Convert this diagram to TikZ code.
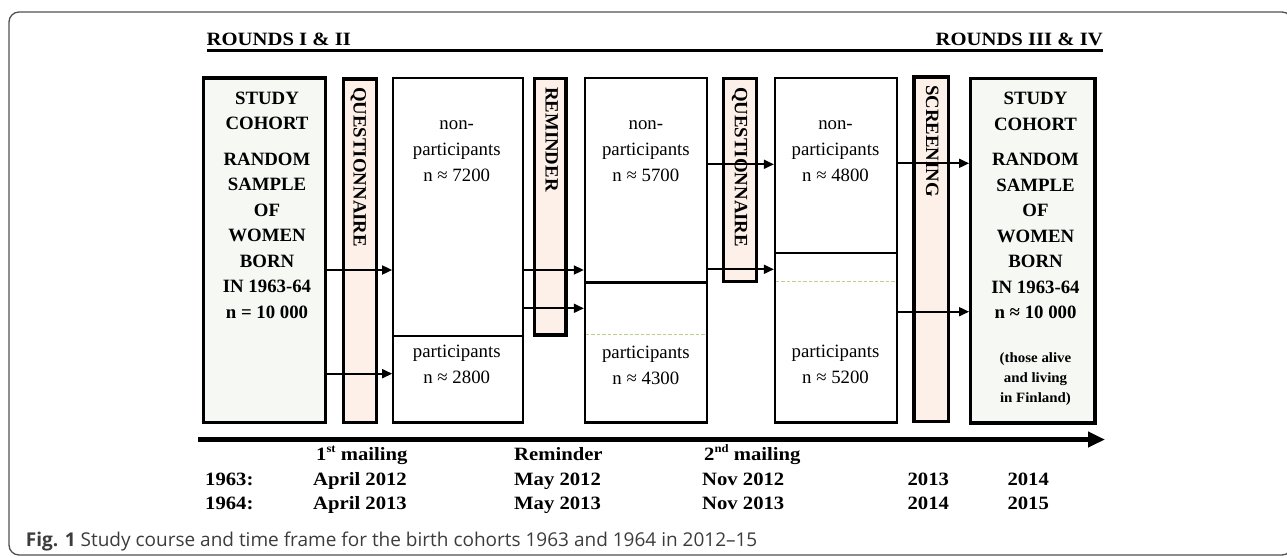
\documentclass[tikz,border=0pt]{standalone}
\usepackage{fontspec}
\setmainfont{Liberation Serif}
\newfontfamily\widefont[FakeStretch=1.1]{Liberation Serif}
\newfontfamily\notefont[FakeStretch=1.05]{Liberation Serif}
\newfontfamily\capfont{Open Sans}
\usetikzlibrary{arrows.meta}
\definecolor{cohortfill}{HTML}{F6F8F3}
\definecolor{barfill}{HTML}{FDF0E8}
\definecolor{dashgreen}{HTML}{B9D18A}
\definecolor{framegray}{HTML}{505050}
\definecolor{captext}{HTML}{3C3C3C}
\tikzset{
  cohortbox/.style={draw, line width=3.3pt, fill=cohortfill, inner sep=0pt},
  barbox/.style={draw, line width=3.3pt, fill=barfill, inner sep=0pt},
  grpbox/.style={draw, line width=2.3pt, fill=white, inner sep=0pt},
  divline/.style={line width=2.3pt},
  greendash/.style={draw=dashgreen, line width=1.3pt, dash pattern=on 3.5pt off 2pt},
  flow/.style={line width=1.7pt, -{Triangle[length=10pt,width=9pt]}},
  timeline/.style={line width=5.5pt, -{Triangle[length=17pt,width=15pt]}},
  cohorttext/.style={align=center, inner sep=0pt, anchor=north, font=\bfseries\fontsize{18.8}{25.5}\selectfont},
  grptext/.style={align=center, inner sep=0pt, anchor=north, font=\fontsize{18.8}{26}\selectfont},
  notetext/.style={align=center, inner sep=0pt, anchor=north, font=\notefont\bfseries\fontsize{14.2}{20}\selectfont},
  vtext/.style={rotate=-90, anchor=base west, inner sep=0pt, font=\bfseries\fontsize{18.8}{22}\selectfont},
  toplabel/.style={inner sep=0pt, font=\widefont\bfseries\fontsize{18.8}{22}\selectfont},
  datelabel/.style={inner sep=0pt, anchor=base west, font=\widefont\bfseries\fontsize{18.8}{22}\selectfont},
}
\newcommand{\supsc}[1]{\raisebox{7.5pt}{\fontsize{11.5}{12}\selectfont #1}}
\begin{document}
\begin{tikzpicture}[x=1pt, y=-1pt]
\useasboundingbox (0,0) rectangle (1287,557);
% outer frame
\draw[framegray, line width=1.3pt, rounded corners=10pt] (9,12) rectangle (1292,555);

% headings
\node[toplabel, anchor=base west] (r12) at (206.5,45.7) {ROUNDS I \& II};
\node[toplabel, anchor=base east] (r34) at (1103,45.7) {ROUNDS III \& IV};
\draw[line width=2.7pt] (r12.base west |- 0,50.3) -- (r34.base east |- 0,50.3);

% boxes
\node[cohortbox, minimum width=122pt, minimum height=344.5pt] (c1) at (264.3,250.25) {};
\node[barbox, minimum width=33.4pt, minimum height=343.5pt] (q1) at (360,250.75) {};
\node[grpbox, minimum width=130pt, minimum height=344.8pt] (b1) at (458.3,250.1) {};
\node[barbox, minimum width=31.5pt, minimum height=256.5pt] (rem) at (550.25,206.75) {};
\node[grpbox, minimum width=121.7pt, minimum height=344.5pt] (b2) at (645.85,250.25) {};
\node[barbox, minimum width=33.4pt, minimum height=203.2pt] (q2) at (740,180.1) {};
\node[grpbox, minimum width=121.7pt, minimum height=344.8pt] (b3) at (835.85,250.1) {};
\node[barbox, minimum width=34.3pt, minimum height=344.5pt] (scr) at (931.15,249.25) {};
\node[cohortbox, minimum width=124.3pt, minimum height=344.3pt] (c2) at (1032.85,250.85) {};

% dividers
\draw[divline] (b1.west |- 0,335.7) -- (b1.east |- 0,335.7);
\draw[divline] (b2.west |- 0,282.5) -- (b2.east |- 0,282.5);
\draw[divline] (b3.west |- 0,252.7) -- (b3.east |- 0,252.7);
\draw[greendash] ([xshift=2pt]b2.west |- 0,334.3) -- ([xshift=-2pt]b2.east |- 0,334.3);
\draw[greendash] ([xshift=2pt]b3.west |- 0,281.7) -- ([xshift=-2pt]b3.east |- 0,281.7);

% vertical labels
\node[vtext] (q1t) at (353.6,87) {QUESTIONNAIRE};
\node[vtext] (remt) at (545.6,87) {REMINDER};
\node[vtext] (q2t) at (734.8,87) {QUESTIONNAIRE};
\node[vtext] (scrt) at (926.2,85) {SCREENING};

% cohort texts
\node[cohorttext] (c1t) at (267,84) {\rule{0pt}{20pt}STUDY\\COHORT\\[9.8pt]RANDOM\\SAMPLE\\OF\\WOMEN\\BORN\\IN 1963-64\\n = 10 000};
\node[cohorttext] (c2t) at (1035.5,84.5) {\rule{0pt}{20pt}STUDY\\COHORT\\[9.8pt]RANDOM\\SAMPLE\\OF\\WOMEN\\BORN\\IN 1963-64\\n ≈ 10 000};
\node[notetext] (c2n) at (1035.5,346) {\rule{0pt}{16pt}(those alive\\and living\\in Finland)};

% group texts
\node[grptext] (b1n) at (456.7,109.3) {\rule{0pt}{20pt}non-\\participants\\n ≈ 7200};
\node[grptext] (b1p) at (456.7,337) {\rule{0pt}{20pt}participants\\n ≈ 2800};
\node[grptext] (b2n) at (645.85,109.3) {\rule{0pt}{20pt}non-\\participants\\n ≈ 5700};
\node[grptext] (b2p) at (645.85,338) {\rule{0pt}{20pt}participants\\n ≈ 4300};
\node[grptext] (b3n) at (835.5,109.3) {\rule{0pt}{20pt}non-\\participants\\n ≈ 4800};
\node[grptext] (b3p) at (835.5,337) {\rule{0pt}{20pt}participants\\n ≈ 5200};

% flow arrows
\draw[flow] (c1.east |- 0,270) -- (b1.west |- 0,270);
\draw[flow] (c1.east |- 0,373.7) -- (b1.west |- 0,373.7);
\draw[flow] (b1.east |- 0,270) -- (b2.west |- 0,270);
\draw[flow] (b1.east |- 0,308.3) -- (b2.west |- 0,308.3);
\draw[flow] (b2.east |- 0,164.3) -- (b3.west |- 0,164.3);
\draw[flow] (b2.east |- 0,269.3) -- (b3.west |- 0,269.3);
\draw[flow] (b3.east |- 0,163.3) -- (c2.west |- 0,163.3);
\draw[flow] (b3.east |- 0,311.7) -- (c2.west |- 0,311.7);

% timeline
\coordinate (tl0) at (198.3,439.5);
\coordinate (tl1) at (1105,439.5);
\draw[timeline] (tl0) -- (tl1);

% time labels
\node[datelabel] (m1) at (316,460) {1\supsc{st} mailing};
\node[datelabel] (rm) at (514,460) {Reminder};
\node[datelabel] (m2) at (704,460) {2\supsc{nd} mailing};
\node[datelabel] (y63) at (205,485.7) {1963:};
\node[datelabel] (d63a) at (313,485.7) {April 2012};
\node[datelabel] (d63b) at (514,485.7) {May 2012};
\node[datelabel] (d63c) at (702,485.7) {Nov 2012};
\node[datelabel] (d63d) at (907.4,485.7) {2013};
\node[datelabel] (d63e) at (1007.3,485.7) {2014};
\node[datelabel] (y64) at (205,509) {1964:};
\node[datelabel] (d64a) at (313,509) {April 2013};
\node[datelabel] (d64b) at (514,509) {May 2013};
\node[datelabel] (d64c) at (702,509) {Nov 2013};
\node[datelabel] (d64d) at (907.4,509) {2014};
\node[datelabel] (d64e) at (1007.3,509) {2015};

% caption
\node[inner sep=0pt, anchor=base west, text=captext, font=\capfont\fontsize{19}{22}\selectfont] (cap) at (25.7,546.5) {\textbf{Fig. 1} Study course and time frame for the birth cohorts 1963 and 1964 in 2012–15};
\end{tikzpicture}
\end{document}
